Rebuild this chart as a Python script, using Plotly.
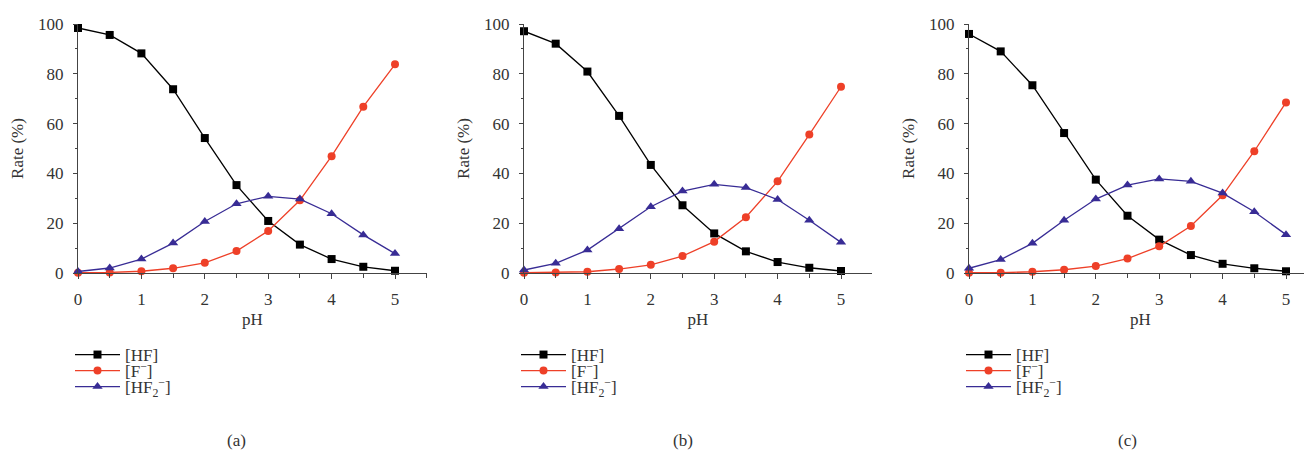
import plotly.graph_objects as go

ph = [0, 0.5, 1, 1.5, 2, 2.5, 3, 3.5, 4, 4.5, 5]

hf_a = [98.4, 95.6, 88.2, 73.8, 54.2, 35.3, 20.9, 11.4, 5.6, 2.5, 0.9]
f_a = [0.1, 0.2, 0.7, 1.9, 4.1, 8.8, 16.9, 29.2, 46.9, 66.8, 83.8]
hf2_a = [0.6, 2.0, 5.6, 12.0, 20.7, 27.8, 30.8, 29.7, 23.8, 15.3, 7.8]

hf_b = [97.1, 92.1, 80.9, 63.1, 43.4, 27.2, 15.9, 8.7, 4.4, 2.1, 0.8]
f_b = [0.1, 0.2, 0.5, 1.6, 3.3, 6.8, 12.6, 22.4, 36.8, 55.6, 74.8]
hf2_b = [1.2, 3.9, 9.2, 17.8, 26.6, 32.9, 35.6, 34.3, 29.5, 21.2, 12.3]

hf_c = [96.0, 89.0, 75.4, 56.2, 37.5, 23.0, 13.4, 7.2, 3.7, 1.9, 0.7]
f_c = [0.1, 0.1, 0.5, 1.3, 2.8, 5.8, 10.7, 18.9, 31.2, 48.9, 68.5]
hf2_c = [1.9, 5.4, 11.9, 21.2, 29.7, 35.3, 37.8, 36.8, 32.1, 24.6, 15.4]

series_names = ["[HF]", "[F<sup>−</sup>]", "[HF<sub>2</sub><sup>−</sup>]"]
panel_labels = ["(a)", "(b)", "(c)"]
x_ticks = [0, 1, 2, 3, 4, 5]
y_ticks = [0, 20, 40, 60, 80, 100]

colors = ["#000000", "#ee4028", "#382c95"]
symbols = ["square", "circle", "triangle-up"]

OFF = 8  # page body margin
W, H = 1312 - OFF, 454 - OFF
FONT = "Liberation Serif"
TXT = "#333333"
FS = 17

panels = [(hf_a, f_a, hf2_a), (hf_b, f_b, hf2_b), (hf_c, f_c, hf2_c)]
# pixel positions in page coordinates
x_px = [(78, 427), (524, 872), (969, 1312)]
px_per_unit = (395 - 78) / 5.0
y0_px, y100_px = 273, 24
y_dom = [(H - (y0_px - OFF)) / H, (H - (y100_px - OFF)) / H]
legend_rows_px = [355, 371, 387]
caption_px = 440


def fx(px):
    return (px - OFF) / W


def fy(px):
    return (H - (px - OFF)) / H


fig = go.Figure()
layout = {}
for i, data in enumerate(panels):
    ax = "" if i == 0 else str(i + 1)
    x0, x1 = x_px[i]
    for j, vals in enumerate(data):
        k = i * 3 + j
        lg = "legend" if k == 0 else "legend" + str(k + 1)
        fig.add_trace(go.Scatter(
            x=ph, y=vals, mode="lines+markers", name=series_names[j],
            line=dict(color=colors[j], width=1.3),
            marker=dict(symbol=symbols[j], size=8 if j != 2 else 9, color=colors[j]),
            xaxis="x" + ax, yaxis="y" + ax, legend=lg, cliponaxis=False,
        ))
        layout[lg] = dict(x=fx(x0 - 8), y=fy(legend_rows_px[j]),
                          xanchor="left", yanchor="middle",
                          bgcolor="rgba(0,0,0,0)", font=dict(family=FONT, size=FS, color=TXT),
                          itemwidth=45)
    xmax = (x1 - x0) / px_per_unit
    axis_common = dict(showgrid=False, zeroline=False, showline=True, automargin=False,
                       linecolor="#444444", linewidth=1.2, ticks="outside",
                       tickcolor="#444444", tickfont=dict(family=FONT, size=FS, color=TXT))
    layout["xaxis" + ax] = dict(domain=[fx(x0), min(fx(x1), 1.0)], range=[0, xmax], anchor="y" + ax,
                                tickvals=x_ticks, ticklen=5, ticklabelstandoff=5,
                                minor=dict(dtick=0.5, tick0=0, ticklen=4, ticks="outside", tickcolor="#444444"),
                                title=dict(text="pH", font=dict(family=FONT, size=FS, color=TXT), standoff=5),
                                **axis_common)
    layout["yaxis" + ax] = dict(domain=y_dom, range=[0, 100], anchor="x" + ax,
                                tickvals=y_ticks, ticklen=4, ticklabelstandoff=6,
                                minor=dict(dtick=10, tick0=0, ticklen=2, ticks="outside", tickcolor="#444444"),
                                title=dict(text="Rate (%)", font=dict(family=FONT, size=FS, color=TXT), standoff=10),
                                **axis_common)
    fig.add_annotation(x=fx(x0 + 2.5 * px_per_unit), y=fy(caption_px), xref="paper", yref="paper",
                       xanchor="center", yanchor="middle",
                       text=panel_labels[i], showarrow=False,
                       font=dict(family=FONT, size=FS, color=TXT))

fig.update_layout(layout)
fig.update_layout(width=W, height=H, margin=dict(l=0, r=0, t=0, b=0),
                  plot_bgcolor="white", paper_bgcolor="white", showlegend=True)
fig.write_html("out.html")
